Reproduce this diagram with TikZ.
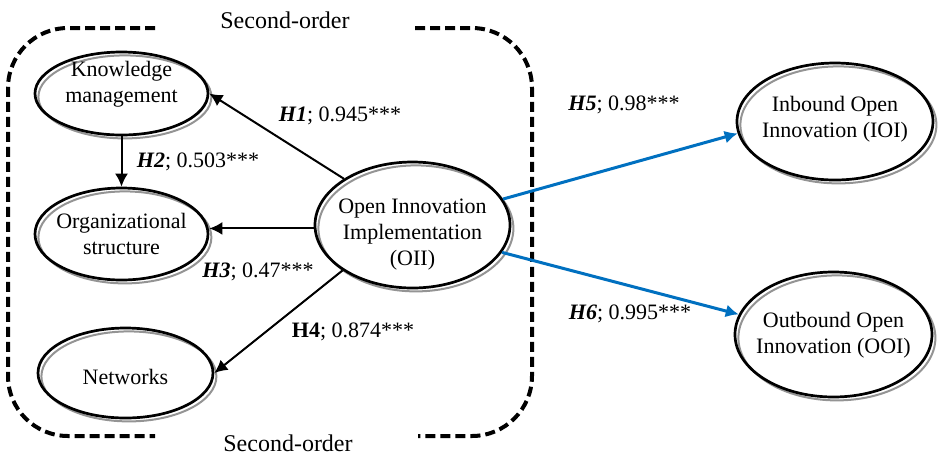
\documentclass[tikz,border=0pt]{standalone}
\usepackage{fontspec}
\setmainfont{Liberation Serif}
\usetikzlibrary{arrows.meta,calc,shapes.geometric}
\definecolor{linkblue}{RGB}{0,112,192}
\begin{document}
\begin{tikzpicture}[x=0.5pt,y=-0.5pt,
  oval/.style={ellipse, draw=black, line width=1.35pt, inner sep=0pt,
    preaction={draw=black!42, line width=1pt,
      transform canvas={shift={(1.7pt,-1.7pt)}}}},
  ovaltext/.style={align=center, inner sep=0pt,
    font=\fontsize{11}{13}\selectfont},
  pathlabel/.style={inner sep=0pt, font=\fontsize{11}{13}\selectfont},
  caption/.style={inner sep=0pt, font=\fontsize{12}{14}\selectfont},
  frame/.style={line width=2pt, dash pattern=on 5pt off 2.5pt,
    rounded corners=30pt},
  link/.style={line width=1pt, -{Latex[length=6.5pt,width=6.5pt]}},
  bluelink/.style={line width=1.5pt, draw=linkblue,
    -{Latex[length=6.5pt,width=6.5pt]}, color=linkblue}
]
\useasboundingbox (0,0) rectangle (939,457);

% second-order frame, open at top and bottom for the captions
\draw[frame] (155,28) -- (8,28) -- (8,436) -- (155,436);
\draw[frame] (415,28) -- (532,28) -- (532,436) -- (418,436);
\node[caption] (captop) at (285,20) {Second-order};
\node[caption] (capbot) at (288,443) {Second-order};

% constructs
\node[oval, minimum width=86.5pt, minimum height=41.5pt] (km) at (121.5,93.5) {};
\node[ovaltext] (kmt) at (121.5,84) {Knowledge\\management};

\node[oval, minimum width=86.5pt, minimum height=46pt] (org) at (121.5,234) {};
\node[ovaltext] (orgt) at (121.5,234) {Organizational\\structure};

\node[oval, minimum width=87.5pt, minimum height=45pt] (net) at (125.5,373) {};
\node[ovaltext] (nett) at (125.5,377) {Networks};

\node[oval, minimum width=97.5pt, minimum height=63pt] (oii) at (412.5,225) {};
\node[ovaltext] (oiit) at (412.5,235) {Open Innovation\\Implementation\\(OII)};

\node[oval, minimum width=98pt, minimum height=58.5pt] (ioi) at (835,121.5) {};
\node[ovaltext] (ioit) at (835,119) {Inbound Open\\Innovation (IOI)};

\node[oval, minimum width=98.5pt, minimum height=62.5pt] (ooi) at (833.5,334.5) {};
\node[ovaltext] (ooit) at (833.5,335) {Outbound Open\\Innovation (OOI)};

% paths
\draw[link] (oii.146) -- (km.east);
\draw[link] (km.south) -- (org.north);
\draw[link] (oii.182) -- (oii.182 -| org.east);
\draw[link] (oii.213) -- (net.east);
\draw[bluelink] (oii.16) -- (ioi.187);
\draw[bluelink] (oii.343) -- (ooi.168);

% path coefficients
\node[pathlabel] (h1) at (340,116) {\textbf{\textit{H1}}; 0.945***};
\node[pathlabel] (h2) at (198,162) {\textbf{\textit{H2}}; 0.503***};
\node[pathlabel] (h3) at (258,272) {\textbf{\textit{H3}}; 0.47***};
\node[pathlabel] (h4) at (353,332) {\textbf{H4}; 0.874***};
\node[pathlabel] (h5) at (624,105) {\textbf{\textit{H5}}; 0.98***};
\node[pathlabel] (h6) at (630,314) {\textbf{\textit{H6}}; 0.995***};
\end{tikzpicture}
\end{document}
